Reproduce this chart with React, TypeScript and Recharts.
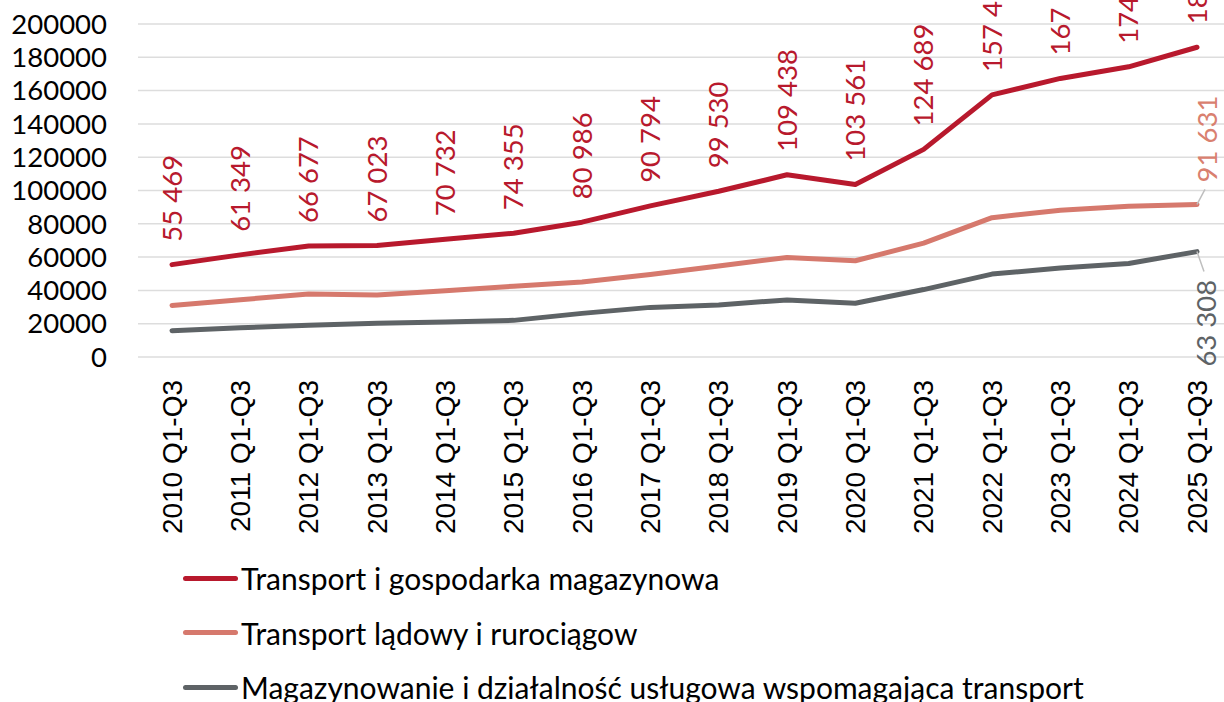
import React from 'react';
import { LineChart, Line, XAxis, YAxis, CartesianGrid, LabelList } from 'recharts';

const categories = [
  '2010 Q1-Q3', '2011 Q1-Q3', '2012 Q1-Q3', '2013 Q1-Q3', '2014 Q1-Q3', '2015 Q1-Q3',
  '2016 Q1-Q3', '2017 Q1-Q3', '2018 Q1-Q3', '2019 Q1-Q3', '2020 Q1-Q3', '2021 Q1-Q3',
  '2022 Q1-Q3', '2023 Q1-Q3', '2024 Q1-Q3', '2025 Q1-Q3',
];

// Transport i gospodarka magazynowa
const transportTotal = [
  55469, 61349, 66677, 67023, 70732, 74355, 80986, 90794,
  99530, 109438, 103561, 124689, 157412, 167301, 174298, 186047,
];

// Transport lądowy i rurociągowy
const landTransport = [
  31000, 34400, 37900, 37200, 39800, 42500, 45000, 49500,
  54600, 59800, 57800, 68400, 83700, 88200, 90500, 91631,
];

// Magazynowanie i działalność usługowa
const warehousing = [
  15800, 17500, 19000, 20200, 21000, 22000, 26200, 29800,
  31300, 34300, 32300, 40500, 49800, 53500, 56200, 63308,
];

const yTicks = [0, 20000, 40000, 60000, 80000, 100000, 120000, 140000, 160000, 180000, 200000];

const RED = '#B8192D';
const SALMON = '#D6796D';
const GREY = '#5E6366';

const legendItems = [
  { name: 'Transport i gospodarka magazynowa', color: RED },
  { name: 'Transport lądowy i rurociągow', color: SALMON },
  { name: 'Magazynowanie i działalność usługowa wspomagająca transport', color: GREY },
];

const data = categories.map((c, i) => ({
  name: c,
  total: transportTotal[i],
  land: landTransport[i],
  store: warehousing[i],
}));

const LAST = categories.length - 1;
const fmt = (v: number) => String(v).replace(/\B(?=(\d{3})+(?!\d))/g, ' ');

const pos = (p: any) => ({
  x: p.x ?? p.viewBox?.x,
  y: p.y ?? p.viewBox?.y,
});

const RedLabel = (p: any) => {
  const { x, y } = pos(p);
  if (x == null || y == null) return null;
  const ay = y - 23;
  return (
    <text x={x} y={ay} transform={`rotate(-90, ${x}, ${ay})`} textAnchor="start" dy="0.35em"
      fill={RED} fontSize={27.5} fontFamily="Lato">
      {fmt(p.value)}
    </text>
  );
};

const LandLabel = (p: any) => {
  const { x, y } = pos(p);
  if (x == null || y == null || p.index !== LAST) return null;
  const ax = x + 10;
  const ay = y - 22;
  return (
    <g>
      <line x1={x} y1={y} x2={x + 8} y2={y - 15} stroke="#BFBFBF" strokeWidth={1.5} />
      <text x={ax} y={ay} transform={`rotate(-90, ${ax}, ${ay})`} textAnchor="start" dy="0.35em"
        fill="#D9806F" fontSize={27.5} fontFamily="Lato">
        {fmt(p.value)}
      </text>
    </g>
  );
};

const StoreLabel = (p: any) => {
  const { x, y } = pos(p);
  if (x == null || y == null || p.index !== LAST) return null;
  const ax = x + 9.5;
  const ay = y + 115;
  return (
    <g>
      <line x1={x} y1={y} x2={x + 7} y2={y + 20} stroke="#BFBFBF" strokeWidth={1.5} />
      <text x={ax} y={ay} transform={`rotate(-90, ${ax}, ${ay})`} textAnchor="start" dy="0.35em"
        fill={GREY} fontSize={27.5} fontFamily="Lato">
        {fmt(p.value)}
      </text>
    </g>
  );
};

const XTick = (p: any) => {
  const { x, y, payload } = p;
  return (
    <text x={x} y={y} transform={`rotate(-90, ${x}, ${y})`} textAnchor="end" dy="0.35em"
      fill="#000" fontSize={28} fontFamily="Liberation Sans">
      {payload.value}
    </text>
  );
};

export default function App() {
  return (
    <div style={{ position: 'fixed', left: 0, top: 0, width: 1224, height: 702, overflow: 'hidden', background: '#fff' }}>
      <LineChart width={1240} height={702} data={data} margin={{ top: 24, right: 9, left: 0, bottom: 0 }}>
        <CartesianGrid vertical={false} stroke="#DDDDDD" strokeWidth={1.5} />
        <XAxis dataKey="name" scale="point" padding={{ left: 34, right: 34 }} interval={0}
          axisLine={false} tickLine={false} tickMargin={17} height={345} tick={<XTick />} />
        <YAxis domain={[0, 200000]} ticks={yTicks} interval={0} width={138} axisLine={false} tickLine={false}
          tickMargin={25} tick={{ fill: '#000', fontSize: 27.5, fontFamily: 'Lato' }} />
        <Line dataKey="store" stroke={GREY} strokeWidth={5} dot={false} isAnimationActive={false}
          strokeLinecap="round" strokeLinejoin="round">
          <LabelList dataKey="store" content={<StoreLabel />} />
        </Line>
        <Line dataKey="land" stroke={SALMON} strokeWidth={5} dot={false} isAnimationActive={false}
          strokeLinecap="round" strokeLinejoin="round">
          <LabelList dataKey="land" content={<LandLabel />} />
        </Line>
        <Line dataKey="total" stroke={RED} strokeWidth={5} dot={false} isAnimationActive={false}
          strokeLinecap="round" strokeLinejoin="round">
          <LabelList dataKey="total" content={<RedLabel />} />
        </Line>
      </LineChart>
      <div style={{ position: 'absolute', left: 183, top: 551, fontFamily: 'Lato', fontSize: 30, color: '#000' }}>
        {legendItems.map((it) => (
          <div key={it.name} style={{ display: 'flex', alignItems: 'center', height: 54.5, whiteSpace: 'nowrap' }}>
            <span style={{ display: 'inline-block', width: 55, height: 5, borderRadius: 3, background: it.color, marginRight: 3 }} />
            <span>{it.name}</span>
          </div>
        ))}
      </div>
    </div>
  );
}
